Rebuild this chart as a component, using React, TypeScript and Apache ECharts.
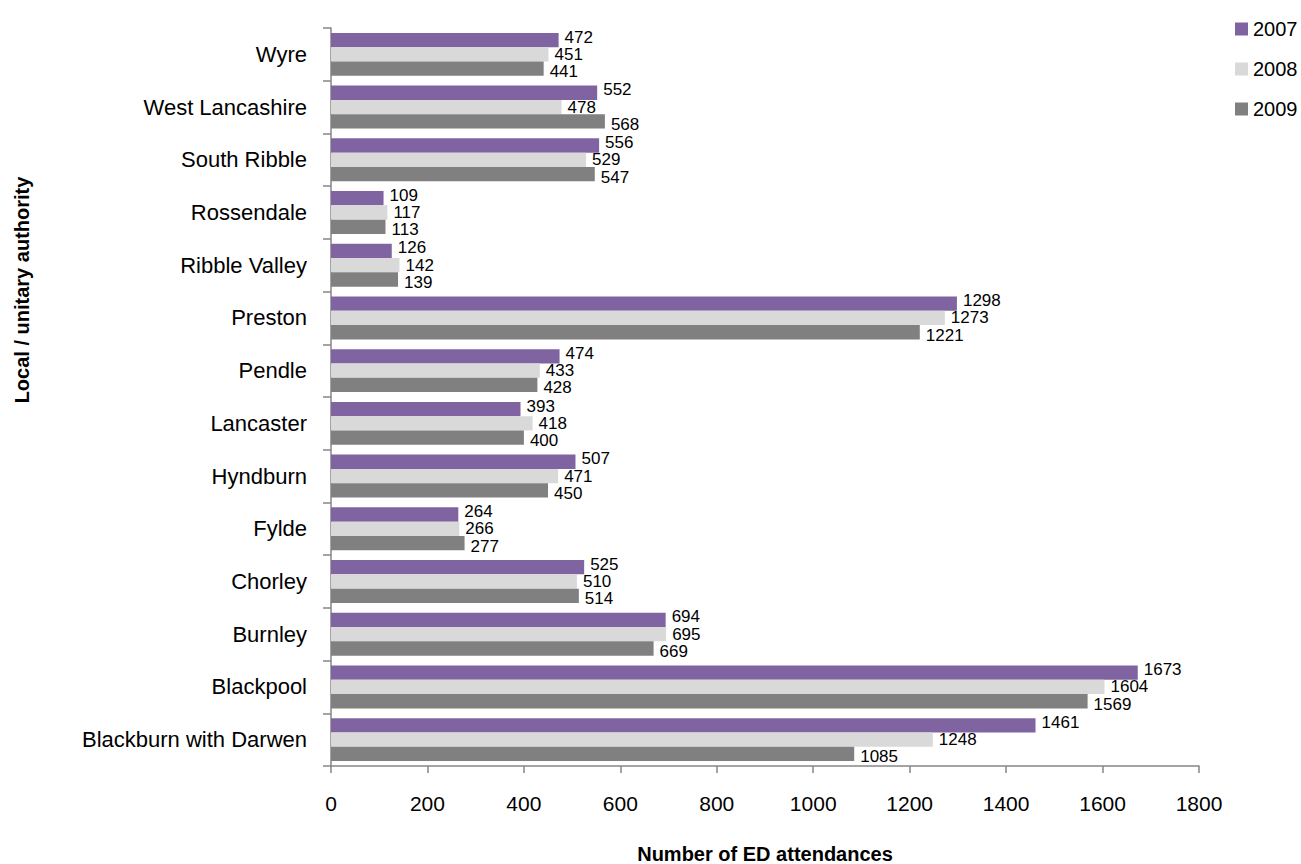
import React, { useEffect, useRef } from "react";
import * as echarts from "echarts";

const categories = [
  "Wyre",
  "West Lancashire",
  "South Ribble",
  "Rossendale",
  "Ribble Valley",
  "Preston",
  "Pendle",
  "Lancaster",
  "Hyndburn",
  "Fylde",
  "Chorley",
  "Burnley",
  "Blackpool",
  "Blackburn with Darwen",
];

const values2007 = [472, 552, 556, 109, 126, 1298, 474, 393, 507, 264, 525, 694, 1673, 1461];
const values2008 = [451, 478, 529, 117, 142, 1273, 433, 418, 471, 266, 510, 695, 1604, 1248];
const values2009 = [441, 568, 547, 113, 139, 1221, 428, 400, 450, 277, 514, 669, 1569, 1085];

const seriesNames = ["2007", "2008", "2009"];
const seriesColors = ["#8064A2", "#D9D9D9", "#808080"];
const xTicks = { min: 0, max: 1800, interval: 200 };

const FONT = "'Liberation Sans', Arial, sans-serif";
const labelOffsets = [
  [0, -3],
  [0, 0],
  [0, 3],
];

export default function App() {
  const ref = useRef<HTMLDivElement>(null);

  useEffect(() => {
    document.body.style.margin = "0";
    if (!ref.current) return;
    const chart = echarts.init(ref.current, null, { renderer: "svg" });
    const allValues = [values2007, values2008, values2009];
    chart.setOption({
      animation: false,
      backgroundColor: "#ffffff",
      textStyle: { fontFamily: FONT },
      grid: { left: 331, right: 102, top: 28, bottom: 98, containLabel: false },
      legend: {
        data: seriesNames,
        orient: "vertical",
        left: 1230,
        top: 14,
        itemWidth: 13,
        itemHeight: 13,
        itemGap: 20,
        icon: "rect",
        textStyle: { fontFamily: FONT, fontSize: 20, color: "#000" },
      },
      xAxis: {
        type: "value",
        min: xTicks.min,
        max: xTicks.max,
        interval: xTicks.interval,
        splitLine: { show: false },
        axisLine: { show: true, lineStyle: { color: "#868686", width: 1.5 } },
        axisTick: { show: true, length: 7, lineStyle: { color: "#868686", width: 1.5 } },
        axisLabel: {
          fontFamily: FONT,
          fontSize: 21,
          color: "#000",
          margin: 27,
          formatter: (v: number) => String(v),
        },
      },
      yAxis: {
        type: "category",
        data: categories,
        inverse: true,
        axisLine: { show: true, lineStyle: { color: "#868686", width: 1.5 } },
        axisTick: { show: true, length: 8, lineStyle: { color: "#868686", width: 1.5 } },
        axisLabel: { fontFamily: FONT, fontSize: 22, color: "#000", margin: 24 },
      },
      series: seriesNames.map((name, i) => ({
        name,
        type: "bar",
        data: allValues[i],
        barWidth: 14.3,
        barGap: "0%",
        itemStyle: { color: seriesColors[i] },
        label: {
          show: true,
          position: "right",
          distance: 6,
          offset: labelOffsets[i],
          fontFamily: FONT,
          fontSize: 17,
          lineHeight: 14,
          color: "#000",
        },
      })),
      graphic: [
        {
          type: "text",
          x: 765,
          y: 854,
          style: {
            text: "Number of ED attendances",
            fontFamily: FONT,
            fontSize: 20,
            fontWeight: "bold",
            fill: "#000",
            align: "center",
            verticalAlign: "middle",
          },
        },
        {
          type: "text",
          x: 22,
          y: 290,
          rotation: Math.PI / 2,
          style: {
            text: "Local / unitary authority",
            fontFamily: FONT,
            fontSize: 20,
            fontWeight: "bold",
            fill: "#000",
            align: "center",
            verticalAlign: "middle",
          },
        },
      ],
    });
    return () => chart.dispose();
  }, []);

  return (
    <div
      ref={ref}
      style={{ position: "absolute", left: 0, top: 0, width: 1301, height: 864 }}
    />
  );
}
